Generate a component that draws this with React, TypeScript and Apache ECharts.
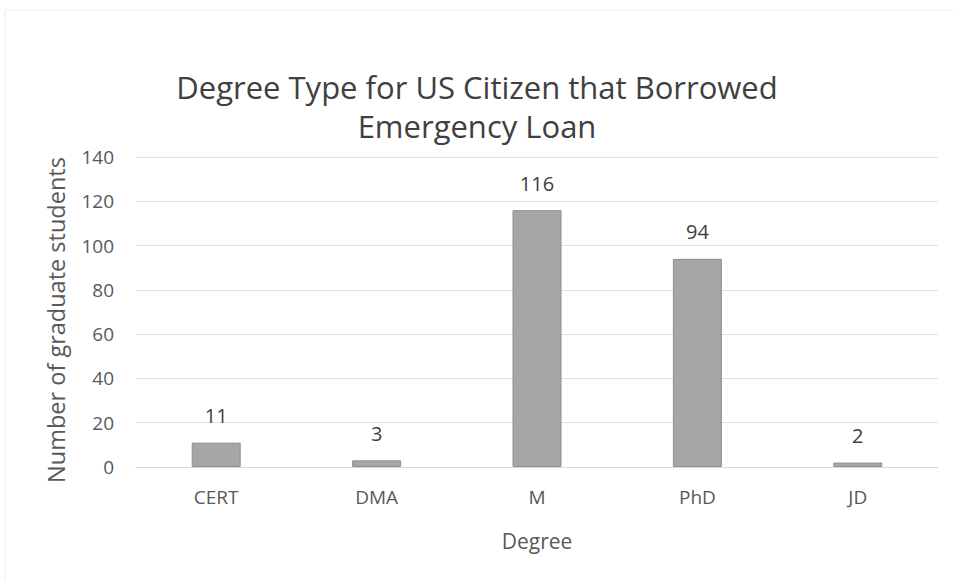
import React, { useEffect, useRef } from "react";
import * as echarts from "echarts";

const categories = ["CERT", "DMA", "M", "PhD", "JD"];
const values = [11, 3, 116, 94, 2];
const titleText = "Degree Type for US Citizen that Borrowed\nEmergency Loan";
const yAxisName = "Number of graduate students";
const xAxisName = "Degree";

export default function App() {
  const ref = useRef<HTMLDivElement>(null);
  useEffect(() => {
    if (!ref.current) return;
    const chart = echarts.init(ref.current, null, { renderer: "svg" });
    const font = "'Open Sans', 'Noto Sans', sans-serif";
    chart.setOption({
      animation: false,
      backgroundColor: "#ffffff",
      title: {
        text: titleText,
        left: "center",
        top: 62,
        textStyle: {
          fontFamily: font,
          fontSize: 31,
          fontWeight: "normal",
          color: "#404040",
          lineHeight: 39,
        },
      },
      graphic: [
        {
          type: "line",
          shape: { x1: 5, y1: 10, x2: 954, y2: 10 },
          style: { stroke: "#ececec", lineWidth: 1 },
        },
        {
          type: "line",
          shape: { x1: 5, y1: 10, x2: 5, y2: 580 },
          style: { stroke: "#ececec", lineWidth: 1 },
        },
      ],
      grid: { left: 136, right: 16, top: 157, bottom: 113 },
      xAxis: {
        type: "category",
        data: categories,
        name: xAxisName,
        nameLocation: "middle",
        nameGap: 63,
        nameTextStyle: { fontFamily: font, fontSize: 21, color: "#595959" },
        axisLine: { show: true, lineStyle: { color: "#d9d9d9" } },
        axisTick: { show: false },
        axisLabel: { fontFamily: font, fontSize: 19, color: "#595959", margin: 20 },
      },
      yAxis: {
        type: "value",
        min: 0,
        max: 140,
        interval: 20,
        name: yAxisName,
        nameLocation: "middle",
        nameGap: 68,
        nameTextStyle: {
          fontFamily: font,
          fontSize: 23.5,
          color: "#595959",
          padding: [0, 16, 0, 0],
        },
        axisLine: { show: false },
        axisTick: { show: false },
        axisLabel: { fontFamily: font, fontSize: 19, color: "#595959", margin: 22 },
        splitLine: { lineStyle: { color: "#e0e0e0", width: 1 } },
      },
      series: [
        {
          type: "bar",
          data: values,
          barWidth: 49,
          itemStyle: { color: "#a6a6a6", borderColor: "#8f8f8f", borderWidth: 1 },
          label: {
            show: true,
            position: "top",
            distance: 17,
            fontFamily: font,
            fontSize: 20,
            color: "#404040",
          },
        },
      ],
    });
    return () => chart.dispose();
  }, []);
  return (
    <div
      ref={ref}
      style={{ position: "absolute", left: 0, top: 0, width: 954, height: 580 }}
    />
  );
}
